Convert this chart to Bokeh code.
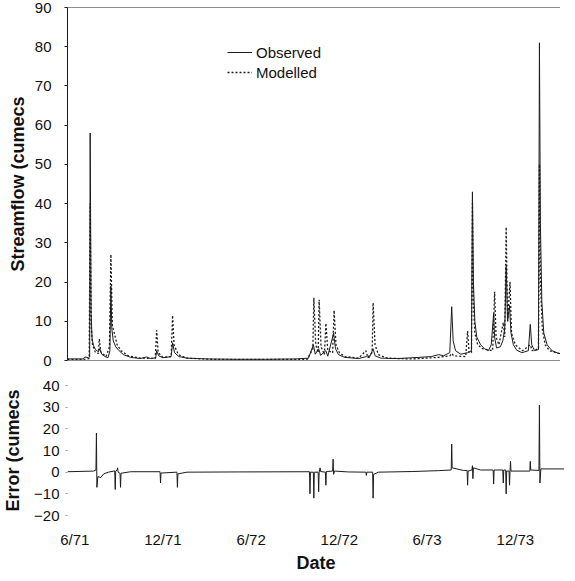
import pandas as pd
from bokeh.plotting import figure
from bokeh.layouts import column
from bokeh.models import Range1d, FixedTicker, Span, Legend
from bokeh.embed import file_html
from bokeh.resources import INLINE

FONT = "Liberation Sans"

# ---- data ----
obs_dates = ["1971-05-17", "1971-06-18", "1971-06-22", "1971-06-30", "1971-07-02", "1971-07-03",
             "1971-07-05", "1971-07-07", "1971-07-10", "1971-07-14", "1971-07-20", "1971-07-23",
             "1971-07-27", "1971-08-03", "1971-08-09", "1971-08-13", "1971-08-15", "1971-08-17",
             "1971-08-20", "1971-08-25", "1971-09-01", "1971-09-10", "1971-09-25", "1971-10-15",
             "1971-10-28", "1971-11-05", "1971-11-16", "1971-11-18", "1971-11-22", "1971-12-01",
             "1971-12-18", "1971-12-21", "1971-12-25", "1972-01-03", "1972-01-20", "1972-03-01",
             "1972-05-01", "1972-07-01", "1972-09-01", "1972-09-28", "1972-10-08", "1972-10-12",
             "1972-10-19", "1972-10-23", "1972-11-03", "1972-11-07", "1972-11-19", "1972-11-23",
             "1972-11-29", "1972-12-12", "1973-01-10", "1973-01-26", "1973-02-01", "1973-02-09",
             "1973-02-13", "1973-02-25", "1973-04-01", "1973-05-15", "1973-06-10", "1973-06-25",
             "1973-07-05", "1973-07-18", "1973-07-22", "1973-07-25", "1973-07-30", "1973-08-10",
             "1973-08-24", "1973-09-01", "1973-09-03", "1973-09-05", "1973-09-08", "1973-09-12",
             "1973-09-20", "1973-09-28", "1973-10-06", "1973-10-12", "1973-10-17", "1973-10-19",
             "1973-10-23", "1973-10-31", "1973-11-05", "1973-11-09", "1973-11-12", "1973-11-15",
             "1973-11-19", "1973-11-22", "1973-11-27", "1973-12-04", "1973-12-15", "1973-12-28",
             "1974-01-01", "1974-01-04", "1974-01-10", "1974-01-18", "1974-01-20", "1974-01-22",
             "1974-01-25", "1974-01-29", "1974-02-05", "1974-02-15", "1974-03-01", "1974-03-30"]
obs_flow = [0.4, 0.4, 0.9, 0.7, 0.9, 58,
            12, 5.5, 3.8, 2.8, 2.2, 3.0,
            1.6, 1.0, 0.7, 2.5, 19, 8,
            5, 3.5, 2.5, 1.5, 0.8, 0.5,
            0.9, 0.5, 0.7, 2.5, 1.2, 0.7,
            1.0, 4.5, 2.0, 1.0, 0.6, 0.4,
            0.3, 0.3, 0.4, 0.6, 4.0, 1.6,
            3.0, 1.3, 2.5, 1.1, 7.0, 3.0,
            1.5, 0.8, 0.5, 1.0, 0.7, 3.0,
            1.2, 0.6, 0.5, 0.8, 1.0, 1.5,
            1.2, 2.0, 13.7, 5.0, 2.5, 1.6,
            2.0, 2.5, 43, 20, 10, 6,
            4, 3, 2.5, 4, 12, 6,
            3.2, 3.5, 5, 8, 24, 10,
            14, 7, 4, 2.6, 2.0, 2.5,
            9.2, 4, 2.5, 2.8, 81, 35,
            15, 7, 4, 2.5, 1.8, 1.5]

mod_dates = ["1971-05-17", "1971-06-20", "1971-07-01", "1971-07-03", "1971-07-05", "1971-07-08",
             "1971-07-14", "1971-07-20", "1971-07-22", "1971-07-25", "1971-08-05", "1971-08-12",
             "1971-08-15", "1971-08-18", "1971-08-22", "1971-08-28", "1971-09-05", "1971-09-20",
             "1971-10-15", "1971-11-15", "1971-11-18", "1971-11-21", "1971-12-01", "1971-12-18",
             "1971-12-21", "1971-12-24", "1972-01-02", "1972-01-20", "1972-03-15", "1972-09-25",
             "1972-10-07", "1972-10-09", "1972-10-13", "1972-10-18", "1972-10-20", "1972-10-24",
             "1972-10-31", "1972-11-03", "1972-11-07", "1972-11-17", "1972-11-20", "1972-11-24",
             "1972-12-01", "1972-12-12", "1973-01-10", "1973-01-25", "1973-01-29", "1973-02-07",
             "1973-02-09", "1973-02-13", "1973-02-20", "1973-03-10", "1973-05-01", "1973-06-25",
             "1973-07-18", "1973-07-22", "1973-07-26", "1973-08-20", "1973-08-24", "1973-08-27",
             "1973-09-01", "1973-09-03", "1973-09-05", "1973-09-08", "1973-09-14", "1973-09-24",
             "1973-10-15", "1973-10-19", "1973-10-22", "1973-10-28", "1973-11-06", "1973-11-09",
             "1973-11-12", "1973-11-15", "1973-11-20", "1973-11-23", "1973-12-01", "1973-12-16",
             "1974-01-01", "1974-01-05", "1974-01-18", "1974-01-20", "1974-01-22", "1974-01-26",
             "1974-02-01", "1974-02-10", "1974-03-01", "1974-03-30"]
mod_flow = [0.3, 0.3, 0.5, 40, 9, 4,
            2.0, 1.8, 5.5, 2.2, 1.0, 3.5,
            27, 9, 7, 4, 2.5, 1.2,
            0.6, 0.5, 7.7, 2, 0.8, 1.0,
            11.5, 4, 1.5, 0.6, 0.3, 0.3,
            3, 16, 4, 2, 15.5, 3.5,
            1.5, 9.5, 2.5, 2, 12.8, 4,
            2, 1, 0.6, 2.5, 0.8, 2,
            14.7, 4, 1.5, 0.6, 0.4, 0.8,
            1.2, 1.8, 1.2, 1.0, 7.5, 2,
            2, 41, 15, 7, 4, 3,
            2.5, 17.5, 6, 4, 9.7, 6,
            34, 10, 20, 7, 4, 2.5,
            4, 2.5, 3, 50, 20, 8,
            4, 2.5, 1.8, 1.5]

err_dates = ["1971-05-17", "1971-07-10", "1971-07-15", "1971-07-16", "1971-07-17", "1971-07-19",
             "1971-07-25", "1971-07-31", "1971-08-10", "1971-08-23", "1971-08-24", "1971-08-25",
             "1971-08-28", "1971-08-29", "1971-08-30", "1971-09-03", "1971-09-04", "1971-09-05",
             "1971-09-25", "1971-11-25", "1971-11-26", "1971-11-27", "1971-12-30", "1971-12-31",
             "1972-01-01", "1972-01-20", "1972-05-01", "1972-09-30", "1972-10-01", "1972-10-02",
             "1972-10-08", "1972-10-09", "1972-10-10", "1972-10-18", "1972-10-19", "1972-10-20",
             "1972-10-22", "1972-10-23", "1972-11-02", "1972-11-03", "1972-11-04", "1972-11-17",
             "1972-11-18", "1972-11-19", "1972-11-21", "1972-12-20", "1973-01-25", "1973-01-26",
             "1973-01-27", "1973-02-08", "1973-02-09", "1973-02-10", "1973-02-20", "1973-05-01",
             "1973-06-25", "1973-07-21", "1973-07-22", "1973-07-23", "1973-08-15", "1973-08-23",
             "1973-08-24", "1973-08-25", "1973-09-02", "1973-09-03", "1973-09-04", "1973-09-05",
             "1973-09-20", "1973-10-16", "1973-10-17", "1973-10-18", "1973-11-05", "1973-11-06",
             "1973-11-07", "1973-11-11", "1973-11-12", "1973-11-13", "1973-11-18", "1973-11-19",
             "1973-11-20", "1973-11-21", "1973-11-22", "1973-12-31", "1974-01-01", "1974-01-02",
             "1974-01-19", "1974-01-20", "1974-01-21", "1974-01-23", "1974-03-30"]
err_vals = [0.2, 0.5, 1, 18, -7, -2,
            -2.5, -0.8, 0, 0.6, -8, 0.5,
            1, 2, 0, -0.5, -7, -0.5,
            0.2, 0.2, -5, -0.4, 0, -7,
            -0.8, 0, 0.1, 0.2, -10, 0,
            0, -12, 0, 0, -9, 0,
            2, 0.3, 0, -6, 0.3, 0.5,
            6, -1, 0.5, 0.1, 0, -1.5,
            0, 0, -12, -1, 0, 0.3,
            0.7, 1, 13, 2, 0.8, 0.8,
            -6, 0.5, 1, 3, -3, 2,
            1, 1, -5.5, 1, 1, -5,
            1, 1, -10, 0.5, 0.5, -6,
            0.5, 5, 0.5, 0.5, 5, 1,
            0.8, 31, -5, 1.5, 1.5]

flow_ticks = [0, 10, 20, 30, 40, 50, 60, 70, 80, 90]
err_ticks = [-20, -10, 0, 10, 20, 30, 40]
date_ticks = ["1971-06-01", "1971-12-01", "1972-06-01", "1972-12-01", "1973-06-01", "1973-12-01"]
date_labels = ["6/71", "12/71", "6/72", "12/72", "6/73", "12/73"]
series_names = ["Observed", "Modelled"]
flow_title = "Streamflow (cumecs"
err_title = "Error (cumecs"
x_title = "Date"
x_limits = ["1971-05-17", "1974-03-13"]

# ---- build ----
obs_x = pd.to_datetime(obs_dates)
mod_x = pd.to_datetime(mod_dates)
err_x = pd.to_datetime(err_dates)
x_range = Range1d(pd.Timestamp(x_limits[0]), pd.Timestamp(x_limits[1]))

INK = "#1c1c1c"

p1 = figure(x_axis_type="datetime", x_range=x_range, y_range=Range1d(0, 90),
            frame_width=497, frame_height=353,
            min_border_left=62, min_border_right=0, min_border_top=7, min_border_bottom=12,
            output_backend="svg", toolbar_location=None)
p1.xaxis.visible = False
p1.grid.visible = False
p1.outline_line_color = None
p1.background_fill_color = "white"
p1.border_fill_color = "white"

ya = p1.yaxis[0]
ya.ticker = FixedTicker(ticks=flow_ticks)
ya.axis_line_color = INK
ya.axis_line_width = 1
ya.major_tick_line_color = INK
ya.major_tick_out = 3
ya.major_tick_in = 0
ya.minor_tick_line_color = None
ya.major_label_standoff = 13
ya.major_label_text_font = FONT
ya.major_label_text_font_size = "15px"
ya.major_label_text_color = "#111111"
ya.axis_label = flow_title
ya.axis_label_text_font = FONT
ya.axis_label_text_font_size = "18px"
ya.axis_label_text_font_style = "bold"
ya.axis_label_text_color = "#111111"
ya.axis_label_standoff = 4

p1.add_layout(Span(location=90, dimension="width", line_color=INK, line_width=1.2))
p1.add_layout(Span(location=0, dimension="width", line_color=INK, line_width=1.2))

r_obs = p1.line(obs_x, obs_flow, line_color=INK, line_width=1)
r_mod = p1.line(mod_x, mod_flow, line_color=INK, line_width=1.3, line_dash="2 2")

legend = Legend(items=[(series_names[0], [r_obs]), (series_names[1], [r_mod])],
                location=(164, 278), orientation="vertical")
legend.label_text_font = FONT
legend.label_text_font_size = "15px"
legend.label_text_color = "#111111"
legend.glyph_width = 25
legend.glyph_height = 20
legend.label_height = 20
legend.label_standoff = 4
legend.spacing = 0
legend.padding = 4
legend.margin = 0
legend.border_line_color = None
legend.background_fill_alpha = 0
p1.add_layout(legend)

p2 = figure(x_axis_type="datetime", x_range=x_range, y_range=Range1d(-20, 40),
            frame_width=497, frame_height=130,
            min_border_left=62, min_border_right=0, min_border_top=13, min_border_bottom=0,
            output_backend="svg", toolbar_location=None)
p2.grid.visible = False
p2.outline_line_color = None

ya2 = p2.yaxis[0]
ya2.ticker = FixedTicker(ticks=err_ticks)
ya2.axis_line_color = None
ya2.major_tick_line_color = "#9a9a9a"
ya2.major_tick_out = 2
ya2.major_tick_in = 0
ya2.minor_tick_line_color = None
ya2.major_label_standoff = 6
ya2.major_label_text_font = FONT
ya2.major_label_text_font_size = "15px"
ya2.major_label_text_color = "#111111"
ya2.axis_label = err_title
ya2.axis_label_text_font = FONT
ya2.axis_label_text_font_size = "18px"
ya2.axis_label_text_font_style = "bold"
ya2.axis_label_text_color = "#111111"
ya2.axis_label_standoff = 8

tick_ms = [pd.Timestamp(d).value / 1e6 for d in date_ticks]
xa2 = p2.xaxis[0]
xa2.ticker = FixedTicker(ticks=tick_ms)
xa2.major_label_overrides = {t: lab for t, lab in zip(tick_ms, date_labels)}
xa2.axis_line_color = None
xa2.major_tick_line_color = None
xa2.minor_tick_line_color = None
xa2.major_label_standoff = 9
xa2.major_label_text_font = FONT
xa2.major_label_text_font_size = "15px"
xa2.major_label_text_color = "#111111"
xa2.axis_label = x_title
xa2.axis_label_text_font = FONT
xa2.axis_label_text_font_size = "18px"
xa2.axis_label_text_font_style = "bold"
xa2.axis_label_text_color = "#111111"
xa2.axis_label_standoff = 2

p2.line(err_x, err_vals, line_color=INK, line_width=1)

layout = column(p1, p2, spacing=0)
open("out.html", "w").write(file_html(layout, INLINE))
